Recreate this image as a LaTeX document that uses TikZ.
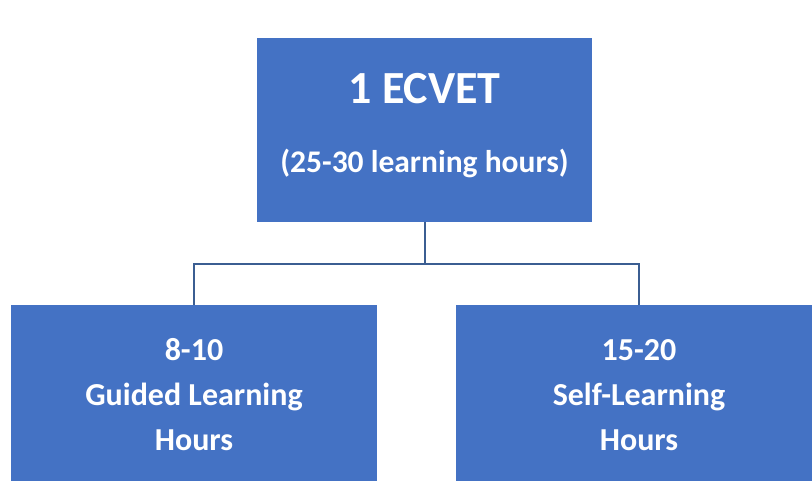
\documentclass[tikz,border=0pt]{standalone}
\usepackage{fontspec}
\setmainfont{Carlito}
\usepackage{tikz}

\definecolor{boxblue}{HTML}{4472C4}
\definecolor{linkblue}{HTML}{3B5E92}

\tikzset{
  unitbox/.style={fill=boxblue, text=white, align=center, inner sep=0pt,
    font=\bfseries\fontsize{32}{45}\selectfont},
  link/.style={draw=linkblue, line width=2pt}
}

\begin{document}
\begin{tikzpicture}[x=1pt,y=-1pt]
      \useasboundingbox (0,0) rectangle (812,480);
      \clip (0,0) rectangle (812,480);
      \node[unitbox, minimum width=335pt, minimum height=184pt, text depth=15pt] (ecvet) at (424.5,130)
        {\fontsize{46}{50}\selectfont 1 ECVET\\[24pt]\fontsize{31.5}{40}\selectfont (25-30 learning hours)};
      \node[unitbox, minimum width=366pt, minimum height=180pt] (guided) at (194,395)
        {8-10\\Guided Learning\\Hours};
      \node[unitbox, minimum width=366pt, minimum height=180pt] (self) at (639,395)
        {15-20\\Self-Learning\\Hours};
      \coordinate (fork) at (424.5,264);
      \draw[link] (ecvet.south) -- (fork)
        (guided.north) |- (fork) -| (self.north);
\end{tikzpicture}
\end{document}
